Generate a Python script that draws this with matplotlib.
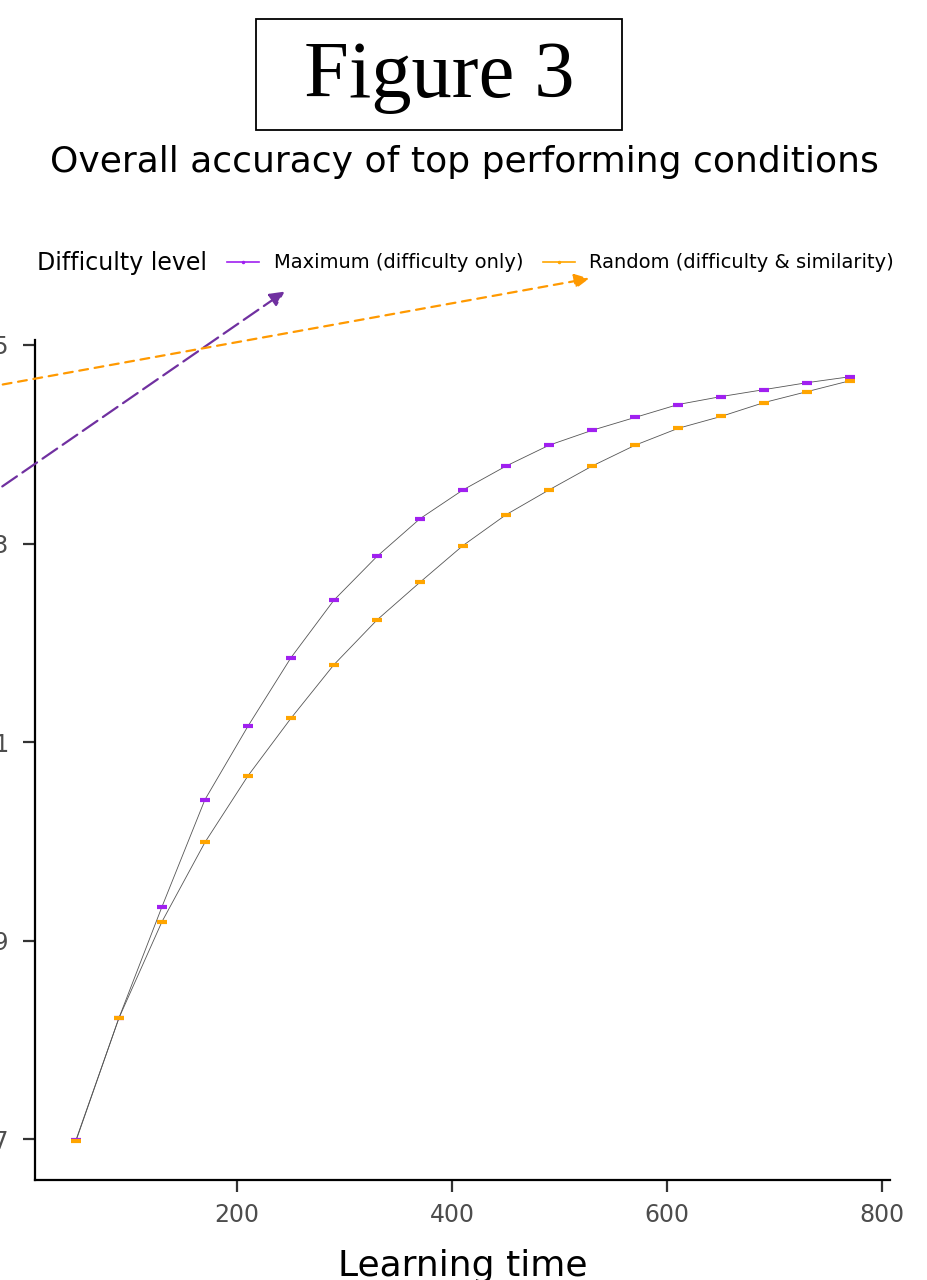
import numpy as np
import matplotlib.pyplot as plt
from matplotlib.patches import Rectangle

# learning time steps and accuracy per condition
learning_time = [50, 90, 130, 170, 210, 250, 290, 330, 370, 410,
                 450, 490, 530, 570, 610, 650, 690, 730, 770]
acc_maximum = [0.8699, 0.8822, 0.8934, 0.9042, 0.9116, 0.9185, 0.9243, 0.9287,
               0.9325, 0.9354, 0.9378, 0.9399, 0.9414, 0.9427, 0.9440, 0.9448,
               0.9455, 0.9462, 0.9468]
acc_random = [0.8698, 0.8822, 0.8919, 0.8999, 0.9066, 0.9124, 0.9178, 0.9223,
              0.9261, 0.9298, 0.9329, 0.9354, 0.9378, 0.9399, 0.9416, 0.9428,
              0.9442, 0.9453, 0.9464]
labels = ["Maximum (difficulty only)", "Random (difficulty & similarity)"]
colors = ["#a020f0", "#ffa500"]
yticks = [0.87, 0.89, 0.91, 0.93, 0.95]
xticks = [200, 400, 600, 800]

fig = plt.figure(figsize=(9.28, 12.8), dpi=100)
ax = fig.add_axes([0.0377, 0.0781, 0.9213, 0.6563])

for ys, c, lab in zip([acc_maximum, acc_random], colors, labels):
    ax.plot(learning_time, ys, color="#555555", lw=0.6, zorder=2)
    ax.plot(learning_time, ys, ls="none", marker="_", ms=7, mew=3,
            color=c, zorder=3)

ax.set_xlim(12, 807)
ax.set_ylim(0.8659, 0.9505)
ax.set_xticks(xticks)
ax.set_yticks(yticks)
ax.set_yticklabels(["%.2f" % v for v in yticks])
ax.tick_params(labelsize=17, labelcolor="#4d4d4d", color="#333333",
               length=8.5, width=1.6, direction="out")
ax.tick_params(axis="x", pad=8)
ax.tick_params(axis="y", pad=10)
for s in ["top", "right"]:
    ax.spines[s].set_visible(False)
for s in ["left", "bottom"]:
    ax.spines[s].set_linewidth(1.6)
ax.set_xlabel("Learning time", fontsize=26, labelpad=16)

# legend across the top
fig.text(37 / 928, 1 - 263 / 1280, "Difficulty level", fontsize=17, va="center")
handles = [plt.Line2D([], [], color=c, lw=1.2, marker="o", ms=1.5) for c in colors]
fig.legend(handles, labels, loc="center left",
           bbox_to_anchor=(227 / 928, 1 - 263 / 1280),
           ncol=2, frameon=False, fontsize=14, handlelength=1.65,
           columnspacing=1.0, handletextpad=0.75, borderpad=0, borderaxespad=0)

# arrows pointing at the legend
ax.annotate("", xy=(287 / 928, 1 - 290 / 1280), xycoords="figure fraction",
            xytext=(0.0, 1 - 488 / 1280), textcoords="figure fraction",
            arrowprops=dict(arrowstyle="-|>", color="#7030a0", lw=1.6,
                            ls=(0, (8, 3)), mutation_scale=22),
            annotation_clip=False)
ax.annotate("", xy=(592 / 928, 1 - 278 / 1280), xycoords="figure fraction",
            xytext=(0.0, 1 - 385 / 1280), textcoords="figure fraction",
            arrowprops=dict(arrowstyle="-|>", color="#ff9900", lw=1.6,
                            ls=(0, (4, 3)), mutation_scale=22),
            annotation_clip=False)

fig.text(0.5, 1 - 162 / 1280, "Overall accuracy of top performing conditions",
         fontsize=26, ha="center", va="center")
fig.patches.append(Rectangle((256 / 928, 1 - 130 / 1280), 366 / 928, 111 / 1280,
                             transform=fig.transFigure, fill=False,
                             ec="black", lw=1.3))
fig.text(439 / 928, 1 - 78 / 1280, "Figure 3", fontsize=58,
         family="Liberation Serif", ha="center", va="center")

fig.savefig("out.png", dpi=100)
